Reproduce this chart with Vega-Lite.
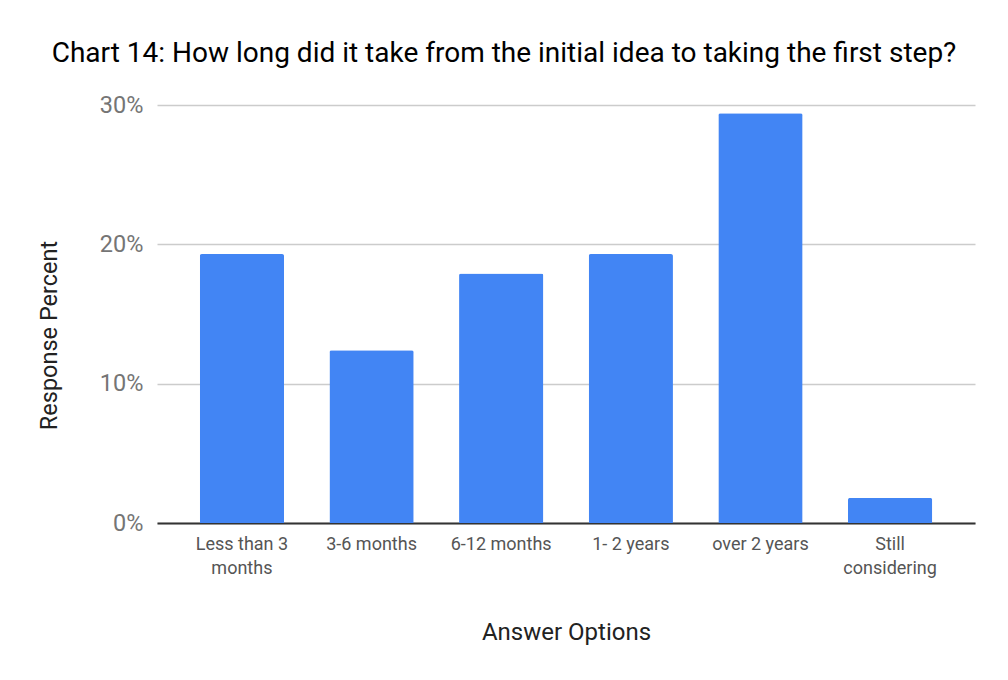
{
  "$schema": "https://vega.github.io/schema/vega-lite/v6.json",
  "autosize": {"type": "none"},
  "width": 818,
  "height": 418,
  "padding": {"left": 157, "top": 105, "right": 33, "bottom": 157},
  "background": "white",
  "title": {
    "text": "Chart 14: How long did it take from the initial idea to taking the first step?",
    "font": "Roboto",
    "fontSize": 28,
    "fontWeight": "normal",
    "color": "#000000",
    "anchor": "middle",
    "baseline": "middle",
    "dx": -62,
    "offset": 11
  },
  "data": {
    "values": [
      {"option": "Less than 3 months", "percent": 0.193},
      {"option": "3-6 months", "percent": 0.124},
      {"option": "6-12 months", "percent": 0.179},
      {"option": "1- 2 years", "percent": 0.193},
      {"option": "over 2 years", "percent": 0.294},
      {"option": "Still considering", "percent": 0.018}
    ]
  },
  "mark": {"type": "bar", "color": "#4285f4", "cornerRadiusTopLeft": 2, "cornerRadiusTopRight": 2},
  "encoding": {
    "x": {
      "field": "option",
      "type": "nominal",
      "sort": null,
      "scale": {"paddingInner": 0.35, "paddingOuter": 0.33},
      "axis": {
        "title": "Answer Options",
        "titleFont": "Roboto",
        "titleFontSize": 24,
        "titleFontWeight": "normal",
        "titleColor": "#222222",
        "titleBaseline": "middle",
        "titleY": 109,
        "labelFont": "Roboto",
        "labelFontSize": 18,
        "labelColor": "#555555",
        "labelAngle": 0,
        "labelPadding": 12,
        "labelLineHeight": 24,
        "labelExpr": "datum.label == 'Less than 3 months' ? ['Less than 3', 'months'] : datum.label == 'Still considering' ? ['Still', 'considering'] : datum.label",
        "ticks": false,
        "domainColor": "#333333",
        "domainWidth": 2,
        "grid": false
      }
    },
    "y": {
      "field": "percent",
      "type": "quantitative",
      "scale": {"domain": [0, 0.3], "nice": false},
      "axis": {
        "title": "Response Percent",
        "titleFont": "Roboto",
        "titleFontSize": 23.5,
        "titleFontWeight": "normal",
        "titleColor": "#222222",
        "titleAngle": -90,
        "titleAlign": "center",
        "titleBaseline": "middle",
        "titleX": -108,
        "titleY": 230,
        "values": [0, 0.1, 0.2, 0.3],
        "format": ".0%",
        "labelFont": "Roboto",
        "labelFontSize": 23.5,
        "labelColor": "#757575",
        "labelPadding": 14,
        "ticks": false,
        "domain": false,
        "grid": true,
        "gridColor": "#cccccc",
        "gridWidth": 1.3
      }
    }
  },
  "config": {"view": {"stroke": null}}
}
